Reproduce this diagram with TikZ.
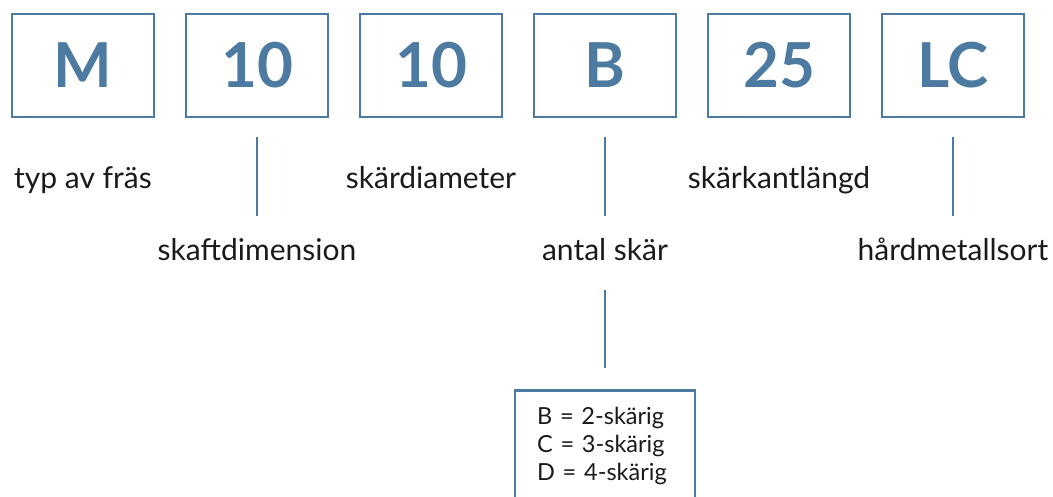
\documentclass[tikz,border=0pt]{standalone}
\usepackage{fontspec}
\setmainfont{Lato}
\definecolor{steel}{HTML}{4C7AA0}
\definecolor{ink}{HTML}{1A1A1A}
\begin{document}
\begin{tikzpicture}[x=1pt,y=-1pt,
  codebox/.style={draw=steel, line width=2.6pt, minimum width=142pt, minimum height=103pt, inner sep=0pt,
    text=steel, font=\fontsize{62}{62}\selectfont\bfseries},
  lbl/.style={anchor=base, text=ink, font=\fontsize{30}{32}\selectfont, inner sep=0pt},
  conn/.style={draw=steel, line width=2.4pt},
  listbox/.style={draw=steel, line width=2.6pt, anchor=north, minimum width=180pt, minimum height=112pt,
    text width=136pt, align=left, inner xsep=21pt, text=ink, font=\fontsize{23.5}{28}\selectfont}]
\useasboundingbox (0,0) rectangle (1053,497);
\clip (0,0) rectangle (1053,497);
\node[codebox] (b1) at (83,65.5) {M};
\node[codebox] (b2) at (257,65.5) {10};
\node[codebox] (b3) at (431,65.5) {10};
\node[codebox] (b4) at (605,65.5) {B};
\node[codebox] (b5) at (779,65.5) {25};
\node[codebox] (b6) at (953,65.5) {LC};
\node[lbl] (l1) at (83,189) {typ av fräs};
\node[lbl] (l3) at (431,189) {skärdiameter};
\node[lbl] (l5) at (779,189) {skärkantlängd};
\node[lbl] (l2) at (257,261) {skaftdimension};
\node[lbl] (l4) at (605,261) {antal skär};
\node[lbl] (l6) at (953,261) {hårdmetallsort};
\node[listbox] (lst) at (605,389) {B = 2-skärig\\C = 3-skärig\\D = 4-skärig};
\draw[conn] ([yshift=-19pt]b2.south) -- ++(0,79);
\draw[conn] ([yshift=-19pt]b4.south) -- ++(0,79);
\draw[conn] ([yshift=-19pt]b6.south) -- ++(0,79);
\draw[conn] ([yshift=21pt]lst.north) -- ++(0,-78);
\end{tikzpicture}
\end{document}
